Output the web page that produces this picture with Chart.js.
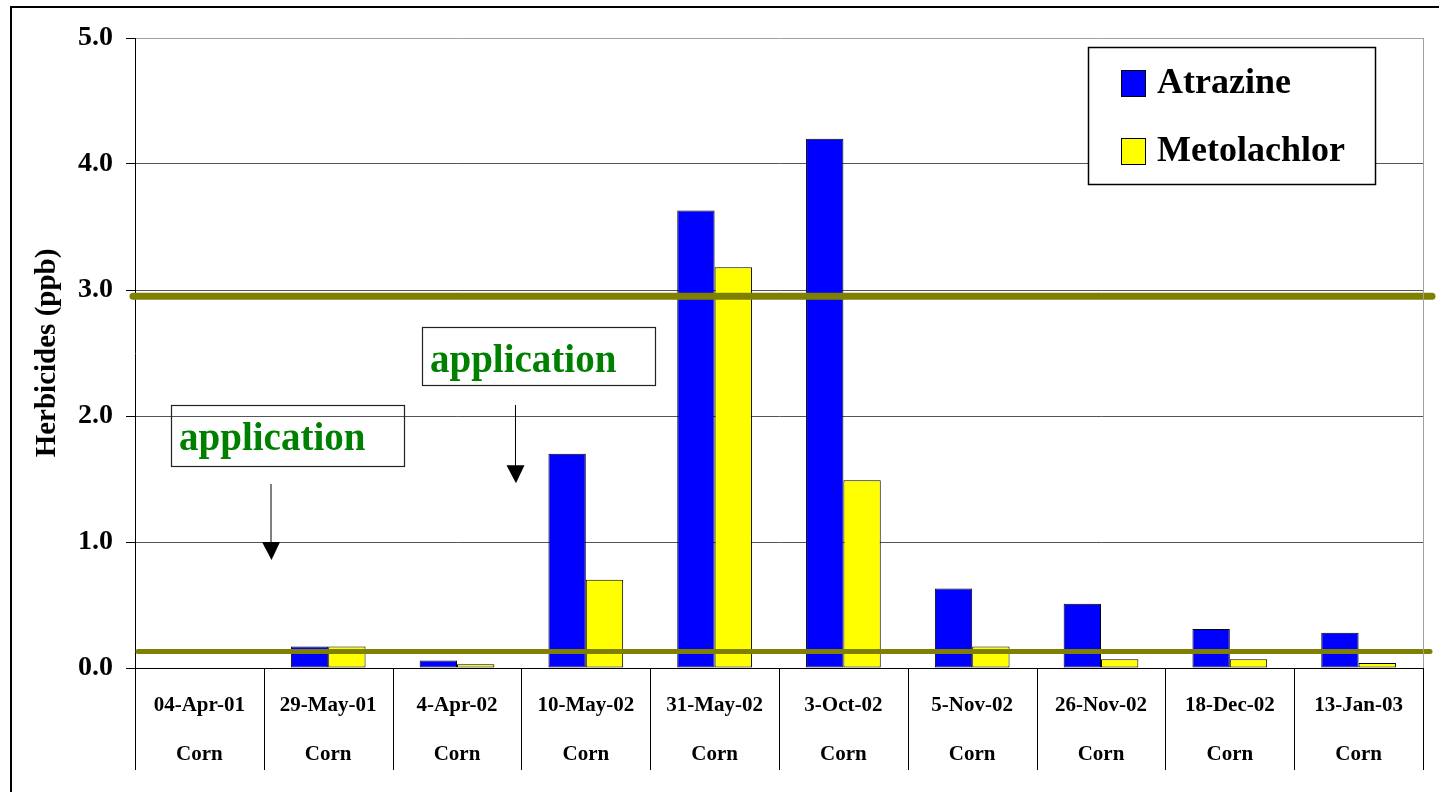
<!DOCTYPE html>
<html>
<head>
<meta charset="utf-8">
<title>Herbicides (ppb)</title>
<script src="https://cdn.jsdelivr.net/npm/chart.js@4.4.1/dist/chart.umd.min.js"></script>
<style>
  html, body { margin: 0; padding: 0; background: #fff; overflow: hidden; }
  #wrap { position: relative; width: 1439px; height: 792px; }
  #frame { position: absolute; left: 10px; top: 6px; width: 1500px; height: 900px;
           border: 2px solid #000; box-sizing: border-box; pointer-events: none; }
  canvas { position: absolute; left: 0; top: 0; }
</style>
</head>
<body>
<div id="wrap">
  <canvas id="chart" width="1439" height="792"></canvas>
  <div id="frame"></div>
</div>
<script>
// Sampling dates and crop
const categories = ['04-Apr-01', '29-May-01', '4-Apr-02', '10-May-02', '31-May-02',
                    '3-Oct-02', '5-Nov-02', '26-Nov-02', '18-Dec-02', '13-Jan-03'];
const crops = ['Corn', 'Corn', 'Corn', 'Corn', 'Corn', 'Corn', 'Corn', 'Corn', 'Corn', 'Corn'];

// Concentrations, ppb
const atrazine    = [0, 0.17, 0.06, 1.70, 3.63, 4.20, 0.63, 0.51, 0.31, 0.28];
const metolachlor = [0, 0.17, 0.03, 0.70, 3.18, 1.49, 0.17, 0.07, 0.07, 0.04];

// Y axis ticks
const yTicks = [0, 1, 2, 3, 4, 5];

// Horizontal reference levels, ppb
const referenceLevels = [2.95, 0.13];

const SERIF = "'Liberation Serif', 'Times New Roman', serif";
const OLIVE = '#808000';

// Reference level lines (drawn over the bars, slightly past the plot's right edge)
const referenceLines = {
  id: 'referenceLines',
  afterDatasetsDraw(chart) {
    const { ctx, chartArea: a, scales: { y } } = chart;
    const styles = [ { w: 7, x0: -2, x1: 9 }, { w: 5, x0: 3, x1: 7 } ];
    ctx.save();
    ctx.strokeStyle = OLIVE;
    ctx.lineCap = 'round';
    referenceLevels.forEach((lvl, i) => {
      const s = styles[i] || styles[0];
      const py = y.getPixelForValue(lvl);
      ctx.lineWidth = s.w;
      ctx.beginPath();
      ctx.moveTo(a.left + s.x0, py);
      ctx.lineTo(a.right + s.x1, py);
      ctx.stroke();
    });
    ctx.restore();
  }
};

// Plot frame (right edge) and category separators below the axis
const frameAndSeparators = {
  id: 'frameAndSeparators',
  afterDraw(chart) {
    const { ctx, chartArea: a, scales: { x } } = chart;
    ctx.save();
    ctx.strokeStyle = '#a0a0a0';
    ctx.lineWidth = 1;
    ctx.beginPath();
    ctx.moveTo(a.right + 0.5, a.top);
    ctx.lineTo(a.right + 0.5, a.bottom);
    ctx.stroke();

    ctx.strokeStyle = '#000';
    const n = chart.data.labels.length;
    const step = (x.right - x.left) / n;
    for (let i = 0; i <= n; i++) {
      const px = Math.round(x.left + i * step) + 0.5;
      ctx.beginPath();
      ctx.moveTo(px, a.bottom);
      ctx.lineTo(px, a.bottom + 102);
      ctx.stroke();
    }
    ctx.restore();
  }
};

// "application" call-outs with arrows, placed in axis units
const notes = [
  { text: 'application', box: [-0.22, 2.087, 1.588, 1.603], arrow: [0.556, 1.46, 0.857] },
  { text: 'application', box: [1.728, 2.706, 3.537, 2.246], arrow: [2.454, 2.087, 1.466] }
];
const callouts = {
  id: 'callouts',
  afterDraw(chart) {
    const { ctx, scales: { x, y } } = chart;
    ctx.save();
    notes.forEach(n => {
      const l = x.getPixelForValue(n.box[0]);
      const t = y.getPixelForValue(n.box[1]);
      const r = x.getPixelForValue(n.box[2]);
      const b = y.getPixelForValue(n.box[3]);
      ctx.strokeStyle = '#222';
      ctx.lineWidth = 1.2;
      ctx.strokeRect(Math.round(l) + 0.5, Math.round(t) + 0.5, Math.round(r - l), Math.round(b - t));
      ctx.fillStyle = '#008000';
      ctx.font = 'bold 39px ' + SERIF;
      ctx.textAlign = 'left';
      ctx.textBaseline = 'alphabetic';
      ctx.fillText(n.text, l + 8, t + 45);

      const ax = x.getPixelForValue(n.arrow[0]);
      const ay0 = y.getPixelForValue(n.arrow[1]);
      const ay1 = y.getPixelForValue(n.arrow[2]);
      ctx.strokeStyle = '#000';
      ctx.lineWidth = 1;
      ctx.beginPath();
      ctx.moveTo(ax, ay0);
      ctx.lineTo(ax, ay1 - 16);
      ctx.stroke();
      ctx.fillStyle = '#000';
      ctx.beginPath();
      ctx.moveTo(ax - 9, ay1 - 18);
      ctx.lineTo(ax + 9, ay1 - 18);
      ctx.lineTo(ax + 0.5, ay1);
      ctx.closePath();
      ctx.fill();
    });
    ctx.restore();
  }
};

// Boxed legend in the upper right of the plot
const boxedLegend = {
  id: 'boxedLegend',
  afterDraw(chart) {
    const { ctx, chartArea: a } = chart;
    const left = a.right - 335, right = a.right - 48;
    const top = a.top + 9, bottom = a.top + 146;
    ctx.save();
    ctx.fillStyle = '#fff';
    ctx.fillRect(left, top, right - left, bottom - top);
    ctx.strokeStyle = '#000';
    ctx.lineWidth = 1.5;
    ctx.strokeRect(left + 0.5, top + 0.5, right - left, bottom - top);
    ctx.font = 'bold 36px ' + SERIF;
    ctx.textAlign = 'left';
    ctx.textBaseline = 'middle';
    chart.data.datasets.forEach((ds, i) => {
      const sy = top + 23 + i * 68;
      ctx.fillStyle = ds.backgroundColor;
      ctx.fillRect(left + 33, sy, 24, 26);
      ctx.strokeStyle = '#000';
      ctx.lineWidth = 1;
      ctx.strokeRect(left + 33.5, sy + 0.5, 24, 26);
      ctx.fillStyle = '#000';
      ctx.fillText(ds.label, left + 69, sy + 14);
    });
    ctx.restore();
  }
};

new Chart(document.getElementById('chart'), {
  type: 'bar',
  data: {
    labels: categories.map((d, i) => [d, crops[i]]),
    datasets: [
      { label: 'Atrazine', data: atrazine, backgroundColor: '#0000ff',
        borderColor: '#000', borderWidth: 1, borderSkipped: false },
      { label: 'Metolachlor', data: metolachlor, backgroundColor: '#ffff00',
        borderColor: '#000', borderWidth: 1, borderSkipped: false }
    ]
  },
  options: {
    responsive: false,
    animation: false,
    events: [],
    layout: { padding: { top: 38, right: 16, bottom: 0, left: 0 } },
    datasets: { bar: { categoryPercentage: 0.58, barPercentage: 1.0 } },
    plugins: { legend: { display: false }, tooltip: { enabled: false } },
    scales: {
      x: {
        type: 'category',
        offset: true,
        grid: { display: false, drawTicks: false },
        border: { display: true, color: '#000', width: 1 },
        ticks: {
          autoSkip: false, maxRotation: 0, minRotation: 0, padding: 13,
          color: '#000',
          font: { family: SERIF, size: 21, weight: 'bold', lineHeight: 49 / 21 }
        },
        afterFit(scale) { scale.height = 124; }
      },
      y: {
        min: 0, max: 5,
        afterBuildTicks(scale) { scale.ticks = yTicks.map(v => ({ value: v })); },
        grid: {
          color: ctx => (ctx.tick && ctx.tick.value === yTicks[yTicks.length - 1]) ? '#a0a0a0' : '#555',
          tickColor: '#000',
          tickLength: 9,
          lineWidth: 1
        },
        border: { display: true, color: '#000', width: 1 },
        ticks: {
          padding: 13, color: '#000',
          font: { family: SERIF, size: 28, weight: 'bold' },
          callback: v => Number(v).toFixed(1)
        },
        title: {
          display: true, text: 'Herbicides (ppb)', color: '#000',
          font: { family: SERIF, size: 29, weight: 'bold' },
          padding: { top: 30, bottom: 0 }
        },
        afterFit(scale) { scale.width = 135; }
      }
    }
  },
  plugins: [referenceLines, frameAndSeparators, callouts, boxedLegend]
});
</script>
</body>
</html>
